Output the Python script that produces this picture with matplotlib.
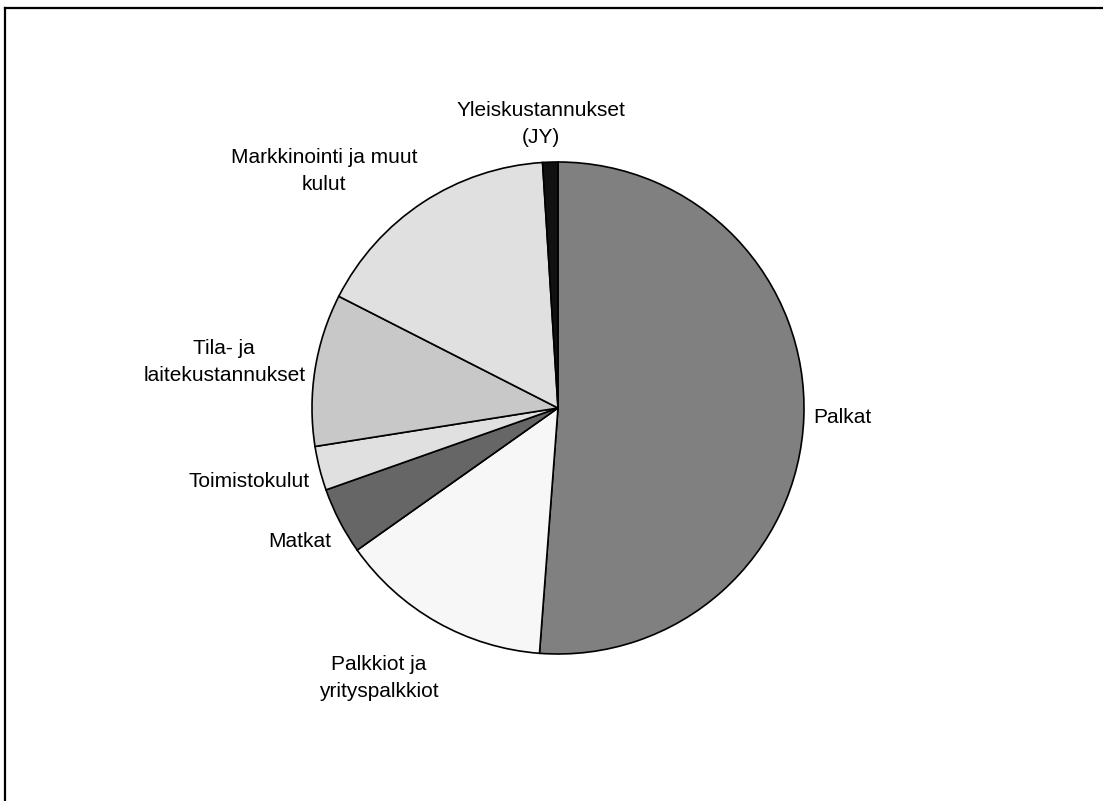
import numpy as np
import matplotlib
matplotlib.use("Agg")
import matplotlib.pyplot as plt
from matplotlib.lines import Line2D

plt.rcParams['font.family'] = ['Liberation Sans', 'DejaVu Sans']

# cost categories (clockwise from 12 o'clock)
labels = ['Palkat', 'Palkkiot ja\nyrityspalkkiot', 'Matkat', 'Toimistokulut',
          'Tila- ja\nlaitekustannukset', 'Markkinointi ja muut\nkulut',
          'Yleiskustannukset\n(JY)']
shares = [51.2, 14.0, 4.4, 2.9, 10.0, 16.5, 1.0]
colors = ['#808080', '#f7f7f7', '#666666', '#e0e0e0', '#c8c8c8', '#e0e0e0', '#111111']

W, H = 1103, 801
cx, cy, R = 558, 408, 246

fig = plt.figure(figsize=(W / 100, H / 100), dpi=100)
ax = fig.add_axes([0, 0, 1, 1])

wedges, _ = ax.pie(shares, colors=colors, startangle=90, counterclock=False,
                   radius=1.0, wedgeprops=dict(edgecolor='black', linewidth=1.2))

ax.set_xlim(-cx / R, (W - cx) / R)
ax.set_ylim(-(H - cy) / R, cy / R)
ax.set_aspect('equal')
ax.axis('off')

# label alignment and small nudges (pixels) per slice
align = [('left', 'center'), ('right', 'top'), ('right', 'top'), ('right', 'center'),
         ('right', 'center'), ('right', 'bottom'), ('center', 'bottom')]
nudge = [(0, 0), (7, -24), (0, -6), (0, -11), (0, 6), (0, 0), (-9, 5)]
for w, lab, (ha, va), (dx, dy) in zip(wedges, labels, align, nudge):
    mid = np.deg2rad((w.theta1 + w.theta2) / 2)
    x, y = 1.04 * np.cos(mid), 1.04 * np.sin(mid)
    ax.annotate(lab, xy=(x, y), xytext=(dx, dy), textcoords='offset pixels',
                ha=ha, va=va, multialignment='center', fontsize=15,
                color='black', linespacing=1.55)

# frame: top and left edges visible
fig.add_artist(Line2D([5 / W, 1], [1 - 8 / H, 1 - 8 / H], transform=fig.transFigure,
                      color='black', linewidth=1.6))
fig.add_artist(Line2D([5 / W, 5 / W], [0, 1 - 8 / H], transform=fig.transFigure,
                      color='black', linewidth=1.6))

fig.savefig('out.png', dpi=100)
